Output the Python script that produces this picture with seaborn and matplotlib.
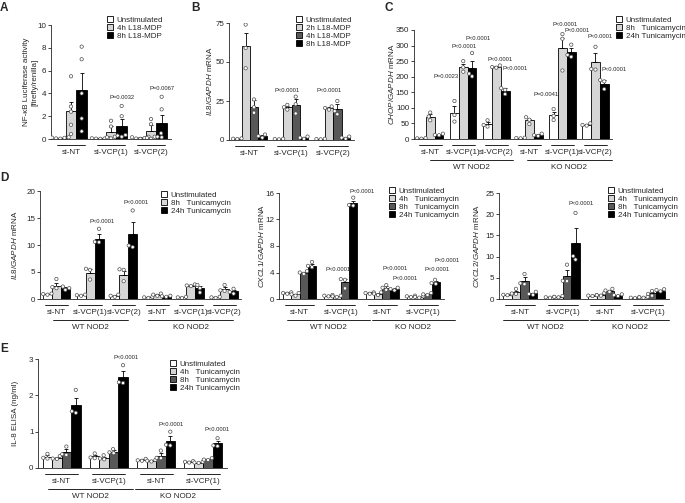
import pandas as pd
import matplotlib.pyplot as plt
import seaborn as sns
from matplotlib.patches import Patch
from matplotlib.transforms import ScaledTranslation

sns.set_style("ticks")
plt.rcParams["font.family"] = ["Liberation Sans", "DejaVu Sans"]
plt.rcParams["mathtext.fontset"] = "custom"
plt.rcParams["mathtext.it"] = "Liberation Sans:italic"
plt.rcParams["mathtext.rm"] = "Liberation Sans"

W, H = 685, 503
WHITE, LIGHT, DARK, BLACK = "white", "#d6d6d6", "#585858", "black"

# ─────────────────────────────────────────────
# A : NF-kB luciferase
# ─────────────────────────────────────────────
a_groups = ["si-NT", "si-VCP(1)", "si-VCP(2)"]
a_conds = ["Unstimulated", "4h L18-MDP", "8h L18-MDP"]
a_mean = {"Unstimulated": [0.1, 0.05, 0.1],
          "4h L18-MDP": [2.42, 0.6, 0.67],
          "8h L18-MDP": [4.3, 1.17, 1.4]}
a_sem = {"Unstimulated": [0.03, 0.02, 0.04],
         "4h L18-MDP": [0.8, 0.5, 0.58],
         "8h L18-MDP": [1.45, 0.6, 0.7]}
a_pts = {"Unstimulated": [[0.15, 0.12, 0.1, 0.05, 0.03], [0.08, 0.06, 0.04, 0.03, 0.02], [0.2, 0.15, 0.08, 0.04, 0.02]],
         "4h L18-MDP": [[5.5, 2.85, 2.4, 1.25, 0.44], [1.6, 1.1, 0.2, 0.15, 0.05], [1.75, 1.3, 0.2, 0.1, 0.02]],
         "8h L18-MDP": [[8.1, 7.0, 4.0, 1.8, 0.67], [2.9, 2.0, 0.35, 0.3, 0.2], [3.7, 2.6, 0.5, 0.2, 0.15]]}

# ─────────────────────────────────────────────
# B : IL8 mRNA, L18-MDP time course
# ─────────────────────────────────────────────
b_groups = ["si-NT", "si-VCP(1)", "si-VCP(2)"]
b_conds = ["Unstimulated", "2h L18-MDP", "4h L18-MDP", "8h L18-MDP"]
b_mean = {"Unstimulated": [0.8, 0.6, 0.6],
          "2h L18-MDP": [60, 21, 20.5],
          "4h L18-MDP": [21.4, 22.5, 20],
          "8h L18-MDP": [2.6, 1.5, 1.5]}
b_sem = {"Unstimulated": [0.2, 0.2, 0.2],
         "2h L18-MDP": [8.5, 1.0, 0.5],
         "4h L18-MDP": [4.5, 4.0, 3.0],
         "8h L18-MDP": [0.8, 0.5, 0.5]}
b_pts = {"Unstimulated": [[1.0, 0.8, 0.6], [0.8, 0.6, 0.4], [0.8, 0.6, 0.4]],
         "2h L18-MDP": [[74, 59, 46], [22.5, 21, 19.5], [21.5, 20.5, 19.5]],
         "4h L18-MDP": [[26, 21, 17.5], [27.8, 22.9, 17], [25, 18.5, 16.5]],
         "8h L18-MDP": [[3.5, 2.5, 1.5], [2.2, 1.5, 0.8], [2.2, 1.5, 0.8]]}

# ─────────────────────────────────────────────
# C : CHOP mRNA
# ─────────────────────────────────────────────
c_groups = ["WT si-NT", "WT si-VCP(1)", "WT si-VCP(2)", "KO si-NT", "KO si-VCP(1)", "KO si-VCP(2)"]
c_labels = ["si-NT", "si-VCP(1)", "si-VCP(2)", "si-NT", "si-VCP(1)", "si-VCP(2)"]
c_conds = ["Unstimulated", "8h   Tunicamycin", "24h Tunicamycin"]
c_mean = {"Unstimulated": [2, 85, 48, 3, 77, 46],
          "8h   Tunicamycin": [72, 232, 232, 60, 293, 248],
          "24h Tunicamycin": [14, 229, 155, 13, 279, 178]}
c_sem = {"Unstimulated": [1, 20, 5, 1, 10, 2],
         "8h   Tunicamycin": [8, 8, 3, 5, 30, 28],
         "24h Tunicamycin": [2, 22, 8, 3, 14, 10]}
c_pts = {"Unstimulated": [[3, 2, 1], [122, 77, 56], [60, 45, 40], [4, 3, 2], [96, 74, 61], [50, 45, 43]],
         "8h   Tunicamycin": [[85, 72, 60], [250, 230, 216], [236, 231, 229], [70, 62, 48], [337, 322, 220], [296, 225, 223]],
         "24h Tunicamycin": [[17, 13, 12], [276, 210, 201], [163, 158, 144], [17, 12, 10], [303, 270, 264], [189, 185, 160]]}

# ─────────────────────────────────────────────
# D : IL8 / CXCL1 / CXCL2 mRNA
# ─────────────────────────────────────────────
d1_groups = c_groups
d1_conds = c_conds
d1_mean = {"Unstimulated": [0.9, 0.7, 0.6, 0.3, 0.3, 0.3],
           "8h   Tunicamycin": [2.45, 4.9, 4.5, 0.8, 2.5, 1.9],
           "24h Tunicamycin": [2.0, 11.2, 12.0, 0.5, 2.0, 1.4]}
d1_sem = {"Unstimulated": [0.1, 0.1, 0.1, 0.1, 0.1, 0.1],
          "8h   Tunicamycin": [0.55, 0.65, 0.75, 0.15, 0.1, 0.35],
          "24h Tunicamycin": [0.2, 0.9, 2.2, 0.1, 0.45, 0.3]}
d1_pts = {"Unstimulated": [[1.0, 0.9, 0.8], [0.8, 0.7, 0.6], [0.8, 0.6, 0.4], [0.4, 0.3, 0.2], [0.4, 0.3, 0.2], [0.4, 0.3, 0.2]],
          "8h   Tunicamycin": [[3.7, 2.2, 2.0], [5.6, 5.4, 3.6], [5.5, 5.4, 3.3], [1.0, 0.8, 0.6], [2.7, 2.5, 2.4], [2.6, 1.6, 1.5]],
          "24h Tunicamycin": [[2.3, 2.0, 1.7], [13.0, 10.6, 10.5], [16.4, 9.9, 9.6], [0.6, 0.5, 0.4], [2.6, 2.0, 1.2], [1.9, 1.3, 1.0]]}

d_groups = ["WT si-NT", "WT si-VCP(1)", "KO si-NT", "KO si-VCP(1)"]
d_labels = ["si-NT", "si-VCP(1)", "si-NT", "si-VCP(1)"]
d_conds = ["Unstimulated", "4h   Tunicamycin", "8h   Tunicamycin", "24h Tunicamycin"]

d2_mean = {"Unstimulated": [0.9, 0.5, 0.9, 0.4],
           "4h   Tunicamycin": [0.7, 0.4, 0.8, 0.3],
           "8h   Tunicamycin": [4.0, 2.5, 1.7, 0.7],
           "24h Tunicamycin": [5.0, 14.5, 1.5, 2.5]}
d2_sem = {"Unstimulated": [0.1, 0.1, 0.1, 0.05],
          "4h   Tunicamycin": [0.1, 0.05, 0.15, 0.05],
          "8h   Tunicamycin": [0.15, 0.55, 0.25, 0.1],
          "24h Tunicamycin": [0.3, 0.35, 0.15, 0.15]}
d2_pts = {"Unstimulated": [[1.0, 0.9, 0.8], [0.6, 0.5, 0.4], [1.0, 0.9, 0.8], [0.5, 0.4, 0.3]],
          "4h   Tunicamycin": [[0.9, 0.7, 0.5], [0.5, 0.4, 0.3], [1.0, 0.8, 0.6], [0.4, 0.3, 0.2]],
          "8h   Tunicamycin": [[4.2, 4.0, 3.8], [3.0, 2.9, 1.6], [2.1, 1.7, 1.4], [0.9, 0.7, 0.6]],
          "24h Tunicamycin": [[5.6, 5.0, 4.8], [15.3, 14.2, 14.1], [1.7, 1.5, 1.3], [2.9, 2.4, 2.3]]}

d3_mean = {"Unstimulated": [1.0, 0.4, 0.8, 0.3],
           "4h   Tunicamycin": [1.6, 0.5, 1.0, 0.4],
           "8h   Tunicamycin": [4.3, 5.5, 2.0, 1.3],
           "24h Tunicamycin": [1.3, 13.2, 0.9, 2.0]}
d3_sem = {"Unstimulated": [0.1, 0.1, 0.1, 0.1],
          "4h   Tunicamycin": [0.4, 0.1, 0.2, 0.1],
          "8h   Tunicamycin": [0.8, 1.3, 0.2, 0.35],
          "24h Tunicamycin": [0.2, 3.6, 0.15, 0.2]}
d3_pts = {"Unstimulated": [[1.1, 1.0, 0.9], [0.5, 0.4, 0.3], [0.9, 0.8, 0.7], [0.4, 0.3, 0.2]],
          "4h   Tunicamycin": [[2.4, 1.3, 1.2], [0.7, 0.5, 0.4], [1.4, 0.9, 0.8], [0.5, 0.4, 0.3]],
          "8h   Tunicamycin": [[5.9, 3.7, 3.5], [8.1, 4.3, 4.2], [2.4, 2.0, 1.7], [1.9, 1.2, 0.8]],
          "24h Tunicamycin": [[1.7, 1.2, 1.0], [20.3, 10.1, 9.3], [1.1, 0.9, 0.7], [2.3, 2.1, 1.8]]}

# ─────────────────────────────────────────────
# E : IL-8 ELISA
# ─────────────────────────────────────────────
e_mean = {"Unstimulated": [0.31, 0.32, 0.22, 0.17],
          "4h   Tunicamycin": [0.28, 0.28, 0.20, 0.15],
          "8h   Tunicamycin": [0.44, 0.45, 0.34, 0.24],
          "24h Tunicamycin": [1.74, 2.51, 0.75, 0.68]}
e_sem = {"Unstimulated": [0.04, 0.04, 0.02, 0.02],
         "4h   Tunicamycin": [0.03, 0.03, 0.02, 0.01],
         "8h   Tunicamycin": [0.08, 0.04, 0.08, 0.02],
         "24h Tunicamycin": [0.2, 0.15, 0.12, 0.07]}
e_pts = {"Unstimulated": [[0.39, 0.28, 0.26], [0.4, 0.29, 0.27], [0.25, 0.21, 0.2], [0.19, 0.17, 0.15]],
         "4h   Tunicamycin": [[0.33, 0.26, 0.25], [0.35, 0.26, 0.24], [0.22, 0.2, 0.18], [0.17, 0.15, 0.14]],
         "8h   Tunicamycin": [[0.59, 0.38, 0.36], [0.52, 0.43, 0.41], [0.48, 0.28, 0.27], [0.27, 0.23, 0.22]],
         "24h Tunicamycin": [[2.15, 1.56, 1.52], [2.83, 2.36, 2.34], [1.0, 0.64, 0.62], [0.82, 0.62, 0.6]]}

fig = plt.figure(figsize=(6.85, 5.03), dpi=100)


def below(ax, px):
    return ax.get_xaxis_transform() + ScaledTranslation(0, -px / 100, fig.dpi_scale_trans)


def panel(rect, groups, labels, conds, colors, mean, sem, pts, ymax, yticks, ylabel, ylab_x,
          leg_xy, notes, tiers=()):
    l, r, t, b = rect
    ax = fig.add_axes([l / W, 1 - b / H, (r - l) / W, (b - t) / H])
    pal = dict(zip(conds, colors))
    bars = pd.DataFrame([(g, c, mean[c][i]) for c in conds for i, g in enumerate(groups)],
                        columns=["group", "cond", "value"])
    dots = pd.DataFrame([(g, c, v) for c in conds for i, g in enumerate(groups) for v in pts[c][i]],
                        columns=["group", "cond", "value"])
    sns.barplot(data=bars, x="group", y="value", hue="cond", order=groups, hue_order=conds,
                palette=pal, edgecolor="black", linewidth=0.6, errorbar=None, legend=False, ax=ax)
    for ci, c in enumerate(conds):
        for gi, bar in enumerate(ax.containers[ci]):
            x = bar.get_x() + bar.get_width() / 2
            ax.errorbar(x, mean[c][gi], yerr=[[0], [sem[c][gi]]], fmt="none", ecolor="black",
                        elinewidth=0.6, capsize=1.3, capthick=0.6, zorder=3)
    ax.set_xlim(-0.5, len(groups) - 0.5)
    ax.set_ylim(0, ymax)
    sns.swarmplot(data=dots, x="group", y="value", hue="cond", order=groups, hue_order=conds,
                  dodge=True, palette={c: "white" for c in conds}, edgecolor="0.3", linewidth=0.5,
                  size=2.4, legend=False, ax=ax, zorder=4)
    ax.set_xlim(-0.5, len(groups) - 0.5)
    ax.set_ylim(0, ymax)
    ax.set_yticks(yticks)
    ax.set_xticks([])
    ax.set_xlabel("")
    ax.set_ylabel(ylabel, fontsize=5.8, linespacing=1.1)
    ax.yaxis.set_label_coords((ylab_x - l) / (r - l), 0.5)
    ax.tick_params(axis="y", length=2, width=0.6, labelsize=5.8, pad=1.2)
    sns.despine(ax=ax)
    for sp in ax.spines.values():
        sp.set_linewidth(0.6)

    for gi, lab in enumerate(labels):
        ax.plot([gi - 0.35, gi + 0.35], [0, 0], color="black", lw=0.6, transform=below(ax, 5.5), clip_on=False)
        ax.text(gi, 0, lab, transform=below(ax, 13.5), ha="center", va="center", fontsize=5.8)
    for x0, x1, name in tiers:
        ax.plot([x0, x1], [0, 0], color="black", lw=0.6, transform=below(ax, 21), clip_on=False)
        ax.text((x0 + x1) / 2, 0, name, transform=below(ax, 28.5), ha="center", va="center", fontsize=5.8)

    for gi, hi, dx, y, s in notes:
        bar = ax.containers[hi][gi]
        ax.text(bar.get_x() + bar.get_width() / 2 + dx, y, s, ha="center", va="center", fontsize=4.2)

    handles = [Patch(facecolor=pal[c], edgecolor="black", linewidth=0.6) for c in conds]
    fig.legend(handles, conds, loc="upper left", bbox_to_anchor=(leg_xy[0] / W, 1 - leg_xy[1] / H),
               frameon=False, fontsize=5.8, handlelength=0.8, handleheight=0.7, handletextpad=0.4,
               labelspacing=0.05, borderpad=0, borderaxespad=0)
    return ax


pv = "P<0.0001"

panel((51, 171, 25, 139), a_groups, a_groups, a_conds, [WHITE, LIGHT, BLACK], a_mean, a_sem, a_pts,
      10, [0, 2, 4, 6, 8, 10], "NF-\u03baB Luciferase activity\n[firefly/renilla]", 38, (107, 16),
      [(1, 2, 0, 3.6, "P=0.0032"), (2, 2, 0, 4.45, "P=0.0067")])

panel((229, 354, 23, 140), b_groups, b_groups, b_conds, [WHITE, LIGHT, DARK, BLACK], b_mean, b_sem, b_pts,
      75, [0, 25, 50, 75], r"$\mathit{IL8/GAPDH}$ mRNA", 214, (296, 16),
      [(1, 1, 0, 32, pv), (2, 1, 0, 32, pv)])

panel((413.7, 612, 30, 139), c_groups, c_labels, c_conds, [WHITE, LIGHT, BLACK], c_mean, c_sem, c_pts,
      350, list(range(0, 351, 50)), r"$\mathit{CHOP/GAPDH}$ mRNA", 396, (616, 16),
      [(1, 0, -0.24, 202, "P=0.0023"), (1, 1, 0.03, 296, pv), (1, 2, 0.19, 323, pv),
       (2, 1, 0.1, 256, pv), (2, 2, 0.3, 225, pv), (4, 0, -0.24, 144, "P=0.0041"),
       (4, 1, 0.07, 369, pv), (4, 2, 0.17, 350, pv), (5, 1, 0.13, 329, pv), (5, 2, 0.31, 222, pv)],
      [(0.0, 2.5, "WT NOD2"), (2.92, 5.5, "KO NOD2")])

panel((39.6, 241.4, 191, 299), d1_groups, c_labels, d1_conds, [WHITE, LIGHT, BLACK], d1_mean, d1_sem, d1_pts,
      20, [0, 5, 10, 15, 20], r"$\mathit{IL8/GAPDH}$ mRNA", 19, (161, 191),
      [(1, 2, 0.08, 14.3, pv), (2, 2, 0.1, 17.8, pv)],
      [(-0.1, 2.13, "WT NOD2"), (2.73, 5.26, "KO NOD2")])

panel((279, 444, 193, 299), d_groups, d_labels, d_conds, [WHITE, LIGHT, DARK, BLACK], d2_mean, d2_sem, d2_pts,
      16, [0, 4, 8, 12, 16], r"$\mathit{CXCL1/GAPDH}$ mRNA", 266, (389, 187),
      [(1, 2, -0.16, 4.4, pv), (1, 3, 0.22, 16.25, pv), (2, 2, 0.22, 4.64, pv),
       (2, 3, 0.26, 3.14, pv), (3, 2, 0.24, 4.49, pv), (3, 3, 0.28, 5.88, pv)],
      [(-0.31, 1.7, "WT NOD2"), (1.75, 3.76, "KO NOD2")])

panel((499, 669, 193, 299), d_groups, d_labels, d_conds, [WHITE, LIGHT, DARK, BLACK], d3_mean, d3_sem, d3_pts,
      25, [0, 5, 10, 15, 20, 25], r"$\mathit{CXCL2/GAPDH}$ mRNA", 481, (608, 187),
      [(1, 3, 0.14, 22.5, pv)],
      [(-0.41, 1.59, "WT NOD2"), (1.64, 3.51, "KO NOD2")])

panel((38, 227, 359, 468), d_groups, d_labels, d_conds, [WHITE, LIGHT, DARK, BLACK], e_mean, e_sem, e_pts,
      3, [0, 1, 2, 3], "IL-8 ELISA (ng/ml)", 19, (170, 360),
      [(1, 3, 0.07, 3.04, pv), (2, 3, 0.02, 1.19, pv), (3, 3, 0, 1.07, pv)],
      [(-0.29, 1.5, "WT NOD2"), (1.56, 3.36, "KO NOD2")])

for letter, x, y in [("A", 0, 2), ("B", 191, 2), ("C", 384, 2), ("D", 0, 172), ("E", 0, 343)]:
    fig.text(x / W, 1 - y / H, letter, fontsize=8.5, fontweight="bold", ha="left", va="top")

fig.savefig("out.png", dpi=100)
